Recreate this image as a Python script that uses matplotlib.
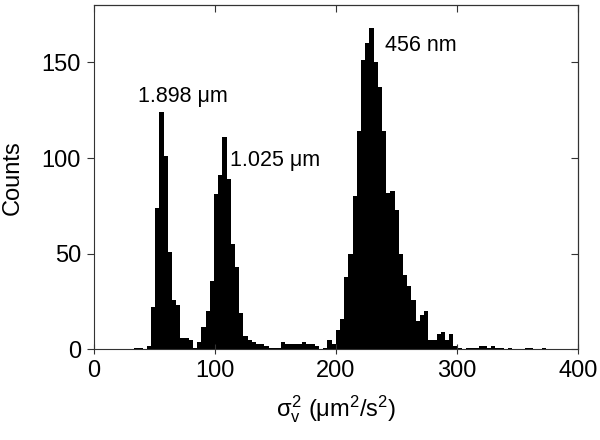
import matplotlib
matplotlib.use("Agg")
import matplotlib.pyplot as plt
import numpy as np

plt.rcParams['font.family'] = ['Liberation Sans', 'DejaVu Sans']
plt.rcParams['mathtext.fontset'] = 'custom'
plt.rcParams['mathtext.rm'] = 'Liberation Sans'
plt.rcParams['mathtext.it'] = 'Liberation Sans'

# Histogram data (sigma_v^2 in um^2/s^2)
bin_start = 33.48
bin_width = 3.47
counts = [1, 1, 0, 2, 22, 74, 124, 101, 51, 26, 23, 6, 6, 5, 1, 4,
          12, 20, 36, 81, 91, 111, 89, 55, 43, 19, 7, 5, 4, 3, 3, 2,
          1, 1, 1, 4, 3, 3, 3, 3, 4, 3, 3, 2, 0, 1, 5, 3,
          10, 16, 38, 50, 80, 114, 151, 160, 168, 150, 137, 114, 82, 83,
          73, 50, 39, 33, 26, 15, 18, 20, 5, 5, 8, 9, 5, 8, 2, 1,
          0, 1, 1, 1, 2, 2, 1, 2, 1, 1, 0, 1, 0, 0, 0, 1, 1, 0, 0, 1]

labels = ["1.898 μm", "1.025 μm", "456 nm"]
label_x = [74, 150, 270]
label_y = [132, 99, 159]

xticks = [0, 100, 200, 300, 400]
yticks = [0, 50, 100, 150]

fig = plt.figure(figsize=(6.0, 4.4), dpi=100)
ax = fig.add_axes([0.156, 0.2057, 0.807, 0.783])

lefts = bin_start + bin_width * np.arange(len(counts))
ax.bar(lefts, counts, width=bin_width, align='edge', color='black',
       edgecolor='none', linewidth=0)

ax.set_xlim(0, 400)
ax.set_ylim(0, 180)
ax.set_xticks(xticks)
ax.set_yticks(yticks)
ax.tick_params(axis='both', labelsize=17, length=5, width=0.8,
               color='#333333', pad=4)
ax.tick_params(axis='x', direction='inout', length=7)
ax.tick_params(axis='y', direction='out')
for s in ax.spines.values():
    s.set_linewidth(0.8)
    s.set_color('#333333')

sec_x = ax.secondary_xaxis('top')
sec_x.set_xticks(xticks)
sec_x.tick_params(direction='in', length=5, width=0.8, color='#333333',
                  labeltop=False)
sec_y = ax.secondary_yaxis('right')
sec_y.set_yticks(yticks)
sec_y.tick_params(direction='in', length=5, width=0.8, color='#333333',
                  labelright=False)

ax.set_ylabel("Counts", fontsize=17, labelpad=13)
ax.set_xlabel(r"$\sigma_v^2$ ($\mu$m$^2$/s$^2$)", fontsize=17, labelpad=8)

for t, x, y in zip(labels, label_x, label_y):
    ax.text(x, y, t, fontsize=15.5, ha='center', va='center')

fig.savefig("out.png", dpi=100)
